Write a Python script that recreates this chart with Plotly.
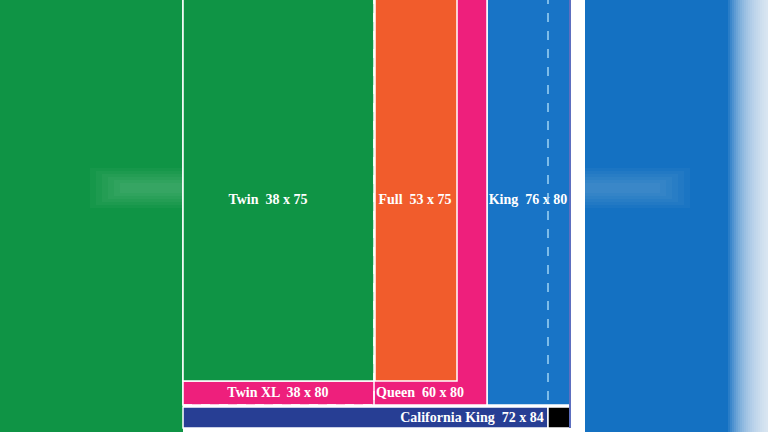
import plotly.graph_objects as go

# rectangles (pixel-space coordinates, y downward)
names = ["bg_left", "bg_right", "calking", "corner", "king", "queen", "twinxl", "twin", "full"]
x0s = [0, 585, 183, 548, 487, 183, 183, 183, 375]
x1s = [183, 768, 548, 570, 570, 487, 374, 374, 457]
y0s = [0, 0, 407, 407, -5, -5, 381, -5, -5]
y1s = [432, 432, 428, 428, 405, 405, 405, 381, 381]
fills = ["#0f9445", "#1471c2", "#273e94", "#000000", "#1874c6", "#ee1f7c", "#ee1f7c", "#0f9445", "#f15c2c"]
lines = ["rgba(0,0,0,0)", "rgba(0,0,0,0)", "#ffffff", "#ffffff", "#ffffff", "#ffffff", "#ffffff", "#ffffff", "#ffffff"]

labels = ["Twin  38 x 75", "Full  53 x 75", "King  76 x 80", "Twin XL  38 x 80", "Queen  60 x 80", "California King  72 x 84"]
label_x = [268, 415, 528, 278, 420, 472]
label_y = [200, 200, 200, 393, 393, 418]

fig = go.Figure()
shapes = []
for n, a, b, c, d, f, l in zip(names, x0s, x1s, y0s, y1s, fills, lines):
    shapes.append(dict(type="rect", x0=a, x1=b, y0=c, y1=d, fillcolor=f,
                       line=dict(color=l, width=1.5), layer="below"))

# soft fade at the right edge of the blurred background
for i in range(20):
    shapes.append(dict(type="rect", x0=728 + i * 2, x1=768, y0=0, y1=432,
                       fillcolor="rgba(255,255,255,0.09)", line=dict(width=0), layer="below"))
for i in range(6):
    shapes.append(dict(type="rect", x0=90 + i * 6, x1=183, y0=168 + i * 3, y1=208 - i * 3,
                       fillcolor="rgba(255,255,255,0.03)", line=dict(width=0), layer="below"))
    shapes.append(dict(type="rect", x0=585, x1=690 - i * 6, y0=168 + i * 3, y1=208 - i * 3,
                       fillcolor="rgba(255,255,255,0.03)", line=dict(width=0), layer="below"))

# dashed outlines
shapes.append(dict(type="line", x0=374, x1=374, y0=-5, y1=405, line=dict(color="white", width=1.5, dash="dash")))
shapes.append(dict(type="line", x0=183, x1=374, y0=405, y1=405, line=dict(color="white", width=1.5, dash="dash")))
shapes.append(dict(type="line", x0=548, x1=548, y0=-5, y1=405, line=dict(color="#9fd3f5", width=1.5, dash="dash")))
shapes.append(dict(type="line", x0=570, x1=570, y0=-5, y1=428, line=dict(color="#5d6fc0", width=2)))

fig.add_trace(go.Scatter(x=label_x, y=label_y, mode="text", text=labels,
                         textfont=dict(family="Liberation Serif", size=14, color="white", weight="bold"),
                         hoverinfo="skip"))

fig.update_layout(width=768, height=432, margin=dict(l=0, r=0, t=0, b=0),
                  paper_bgcolor="white", plot_bgcolor="white", showlegend=False, shapes=shapes,
                  xaxis=dict(range=[0, 768], visible=False, fixedrange=True),
                  yaxis=dict(range=[432, 0], visible=False, fixedrange=True))
fig.write_html("out.html", config={"displayModeBar": False},
               post_script="document.body.style.margin='0';")
